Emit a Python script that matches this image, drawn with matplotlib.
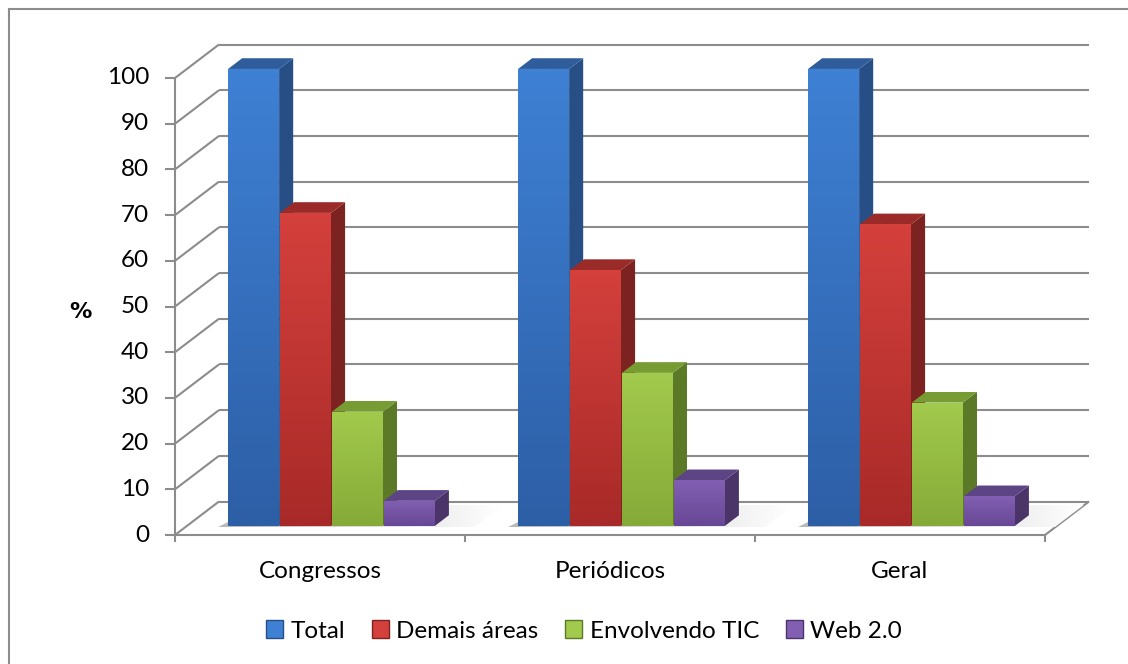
import numpy as np
import matplotlib.pyplot as plt
from matplotlib.patches import Polygon, Patch
from matplotlib.lines import Line2D
from matplotlib.colors import LinearSegmentedColormap

plt.rcParams['font.family'] = ['Lato', 'DejaVu Sans']

# dados
categorias = ['Congressos', 'Periódicos', 'Geral']
series = ['Total', 'Demais áreas', 'Envolvendo TIC', 'Web 2.0']
total = [100, 100, 100]
demais = [68.5, 56, 66]
tic = [25, 33.5, 27]
web = [5.5, 10, 6.5]
valores = [total, demais, tic, web]
yticks = list(range(0, 101, 10))

# cores: (frente topo, frente base, lado, tampa)
cores = [
    ('#3E80D4', '#2D5FA6', '#284E86', '#2F5D9C'),
    ('#D4403C', '#A82A28', '#7C2220', '#9A2B28'),
    ('#A2CA4C', '#86AA38', '#5C7928', '#779C33'),
    ('#825FB2', '#684896', '#4A3468', '#5D4485'),
]

W, H = 1128, 664
X0, PX = 175, 290      # pixel da origem / pixels por categoria
Y0, PY = 535, 4.57     # pixel do zero / pixels por unidade
DX, DY = 44 / PX, 33.5 / PY   # profundidade da caixa

fig = plt.figure(figsize=(W / 100, H / 100), dpi=100)
ax = fig.add_axes([0, 0, 1, 1])
xlim = (-X0 / PX, (W - X0) / PX)
ylim = ((Y0 - H) / PY, Y0 / PY)


def proj(x, v, f):
    return (x + f * DX, v + f * DY)


def face(verts, c1, c2, z, horizontal=False):
    poly = Polygon(verts, closed=True, facecolor='none', edgecolor='none', zorder=z)
    ax.add_patch(poly)
    xs, ys = zip(*verts)
    g = np.linspace(0, 1, 64)
    g = g[None, :] if horizontal else g[:, None]
    cmap = LinearSegmentedColormap.from_list('g', [c2, c1])
    im = ax.imshow(g, cmap=cmap, extent=[min(xs), max(xs), min(ys), max(ys)],
                   origin='lower', aspect='auto', zorder=z, interpolation='bilinear')
    im.set_clip_path(poly)


grid = dict(color='#8C8C8C', lw=1.5, solid_capstyle='butt', zorder=1)
n = len(categorias)

# paredes / grade
for v in yticks:
    a, b = proj(0, v, 1), proj(n, v, 1)
    ax.plot([a[0], b[0]], [a[1], b[1]], **grid)
    a, b = proj(0, v, 0), proj(0, v, 1)
    ax.plot([a[0], b[0]], [a[1], b[1]], **grid)
    ax.plot([-10 / PX, 0], [v, v], **grid)
    ax.text(-26 / PX, v, str(v), ha='right', va='center', fontsize=17.5, color='black')

ax.plot([0, 0], [0, 100], **grid)
ax.plot([0, n], [0, 0], **grid)
a, b = proj(n, 0, 0), proj(n, 0, 1)
ax.plot([a[0], b[0]], [a[1], b[1]], **grid)
for i in range(n + 1):
    ax.plot([i, i], [0, -7 / PY], **grid)

for i, c in enumerate(categorias):
    ax.text(i + 0.5, -36 / PY, c, ha='center', va='center', fontsize=17.5)

ax.text((80 - X0) / PX, (Y0 - 312) / PY, '%', ha='center', va='center',
        fontsize=16, fontweight='bold', family=['DejaVu Sans'])

# barras
f0, f1 = 0.27, 0.59
passo, larg = 0.179, 0.176
inicio = (1 - 4 * passo) / 2
for i in range(n):
    gx0 = i + inicio
    gx1 = gx0 + 4 * passo
    sh = [proj(gx0 - 0.03, 0, f0 - 0.04), proj(gx1 + 0.14, 0, f0 - 0.04),
          proj(gx1 + 0.14, 0, f1 + 0.3), proj(gx0 + 0.02, 0, f1 + 0.3)]
    face(sh, '#FFFFFF', '#B8B8B8', 2, horizontal=True)
    for j in range(4):
        v = valores[j][i]
        xl = gx0 + j * passo
        xr = xl + larg
        ct, cb, cs, cp = cores[j]
        z = 3 + (i * 4 + j) * 0.01
        face([proj(xl, 0, f0), proj(xr, 0, f0), proj(xr, v, f0), proj(xl, v, f0)], ct, cb, z)
        face([proj(xr, 0, f0), proj(xr, 0, f1), proj(xr, v, f1), proj(xr, v, f0)], cs, cs, z)
        face([proj(xl, v, f0), proj(xr, v, f0), proj(xr, v, f1), proj(xl, v, f1)], cp, cp, z)

ax.set_xlim(*xlim)
ax.set_ylim(*ylim)
ax.axis('off')

# moldura
fig.add_artist(Line2D([9 / W, 9 / W], [0, 1 - 9 / H], color='#8C8C8C', lw=1.5))
fig.add_artist(Line2D([9 / W, 1], [1 - 9 / H, 1 - 9 / H], color='#8C8C8C', lw=1.5))

handles = [Patch(facecolor=c[0], edgecolor=c[2]) for c in cores]
fig.legend(handles, series, loc='center', bbox_to_anchor=(584 / W, 1 - 631 / H),
           ncol=4, frameon=False, fontsize=17.5, handlelength=0.7, handleheight=0.7,
           handletextpad=0.3, columnspacing=1.1)

fig.savefig('out.png', dpi=100)
